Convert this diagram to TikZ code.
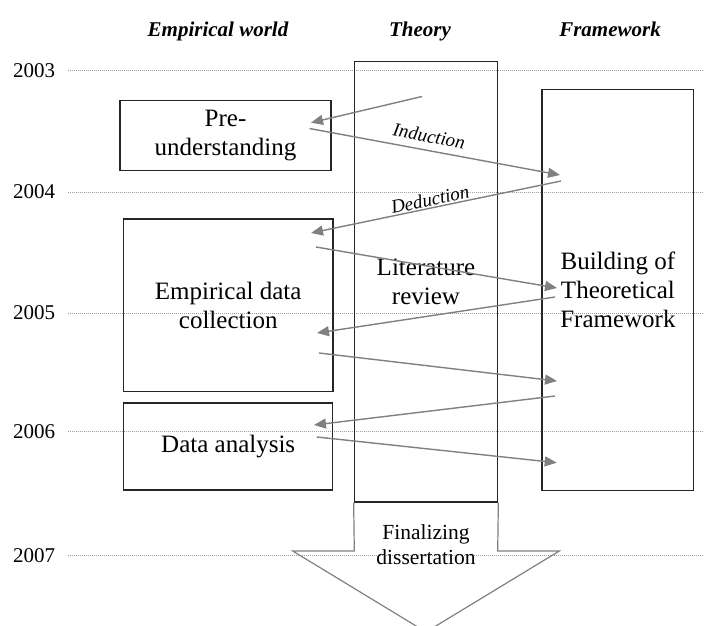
\documentclass[tikz,border=0pt]{standalone}
\usepackage{fontspec}
\setmainfont{Liberation Serif}
\usetikzlibrary{arrows.meta}
\begin{document}
\begin{tikzpicture}[x=1bp,y=-1bp,
  box/.style={draw=black!85, line width=1.3bp, align=center, inner sep=0pt,
    font=\fontsize{25bp}{29bp}\selectfont},
  hdr/.style={font=\fontsize{21bp}{25bp}\selectfont\bfseries\itshape, inner sep=0pt, anchor=base},
  yr/.style={font=\fontsize{21bp}{25bp}\selectfont, inner sep=0pt},
  gridline/.style={draw=black!38, line width=0.8bp, dash pattern=on 0.8bp off 1.2bp},
  flow/.style={draw=black!50, line width=1.4bp, -{Triangle[length=12bp,width=10bp]}},
  lbl/.style={font=\fontsize{19bp}{22bp}\selectfont\itshape, inner sep=0pt},
  bigarrow/.style={draw=black!50, line width=1.2bp, line join=miter},
]
\useasboundingbox (0,0) rectangle (704,626);

% headers
\node[hdr] (hemp) at (218,36.5) {Empirical world};
\node[hdr] (hthe) at (420,36.5) {Theory};
\node[hdr] (hfra) at (610,36.5) {Framework};

% years and dotted lines
\foreach \yy/\lab in {70.5/2003,192/2004,313/2005,431.5/2006,555.5/2007}{
  \node[yr] (y\lab) at (34,\yy) {\lab};
  \coordinate (gs\lab) at (68,\yy);
  \coordinate (ge\lab) at (704,\yy);
  \draw[gridline] (gs\lab) -- (ge\lab);
}

% boxes
\node[box, minimum width=211bp, minimum height=70bp] (pre) at (225.5,135.4) {Pre-\\understanding};
\node[box, minimum width=209.5bp, minimum height=172.5bp] (edc) at (228.2,305.2) {Empirical data\\collection};
\node[box, minimum width=209bp, minimum height=87bp] (da) at (228.2,446.5) {Data analysis};
\node[box, minimum width=143.4bp, minimum height=440.3bp] (theory) at (426,281.9) {Literature\\review};
\node[box, minimum width=151.7bp, minimum height=400.9bp] (fw) at (617.9,290.2) {Building of\\Theoretical\\Framework};

% arrow end points
\coordinate (a1s) at (422,96.5);   \coordinate (a1e) at (311,122.7);
\coordinate (a2s) at (309.5,128.5); \coordinate (a2e) at (560,175);
\coordinate (a3s) at (561,181);    \coordinate (a3e) at (311,233);
\coordinate (a4s) at (316,247);    \coordinate (a4e) at (557,288);
\coordinate (a5s) at (555,297);    \coordinate (a5e) at (317,333);
\coordinate (a6s) at (319,353);    \coordinate (a6e) at (557,381);
\coordinate (a7s) at (555,396);    \coordinate (a7e) at (314,425);
\coordinate (a8s) at (316.7,437);  \coordinate (a8e) at (556.7,462.7);

\foreach \i in {1,...,8}{ \draw[flow] (a\i s) -- (a\i e); }

\node[lbl, rotate=-10.5] (ind) at (429,136) {Induction};
\node[lbl, rotate=11.5] (ded) at (430,199.5) {Deduction};

% big arrow
\coordinate (sl) at (354.3,551);
\coordinate (wl) at (292.7,551);
\coordinate (tip) at (426,632);
\coordinate (wr) at (559.3,551);
\coordinate (sr) at (497.7,551);
\draw[bigarrow] (theory.south west) -- (sl) -- (wl) -- (tip) -- (wr) -- (sr) -- (theory.south east);
\node[font=\fontsize{21.5bp}{25bp}\selectfont, align=center, inner sep=0pt] (fin) at (426,545) {Finalizing\\dissertation};
\end{tikzpicture}
\end{document}
